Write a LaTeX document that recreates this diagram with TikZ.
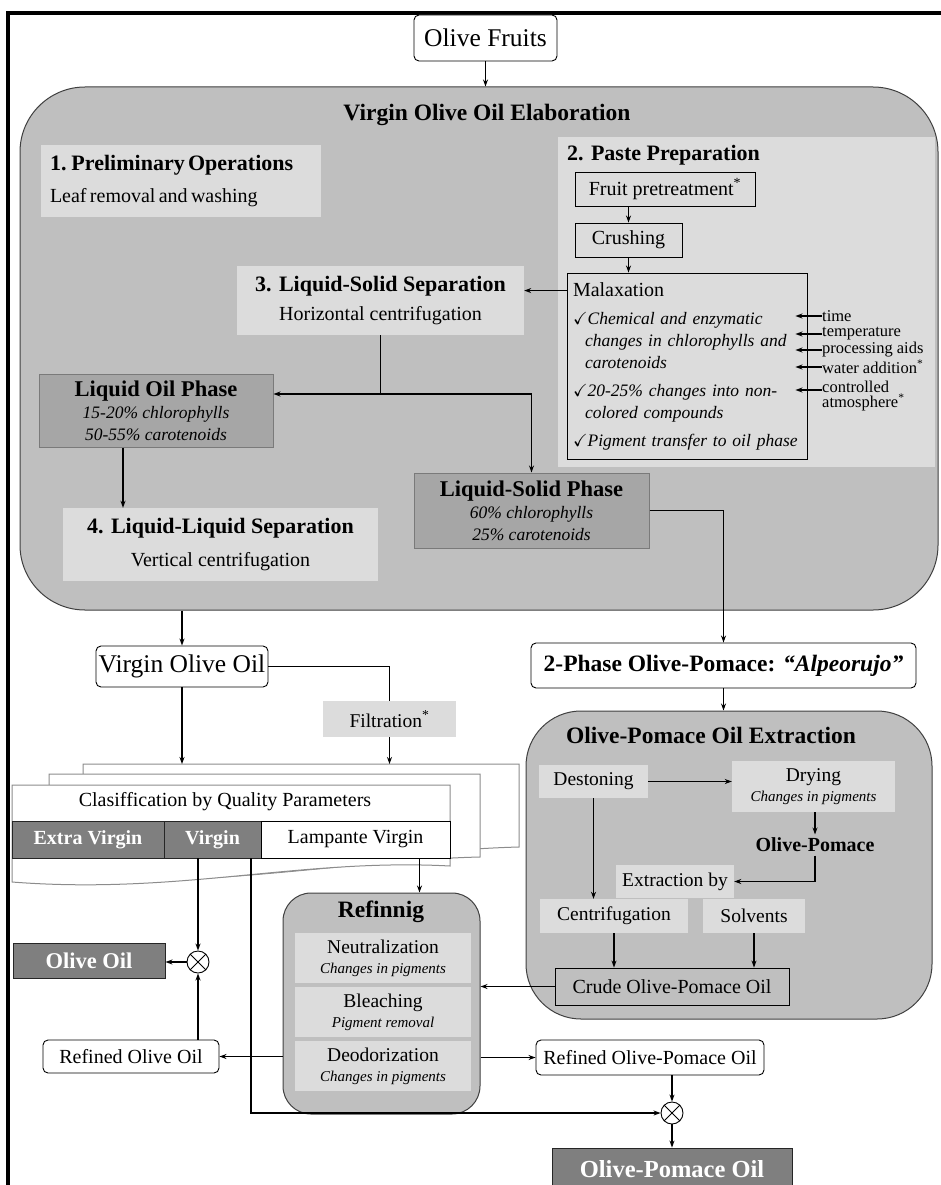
\documentclass[tikz,border=0pt]{standalone}
\usepackage{fontspec}
\setmainfont{Liberation Serif}
\usepackage{amssymb}
\usetikzlibrary{arrows.meta}

\definecolor{panelfill}{HTML}{BFBFBF}
\definecolor{lightfill}{HTML}{DCDCDC}
\definecolor{midfill}{HTML}{A6A6A6}
\definecolor{midline}{HTML}{7A7A7A}
\definecolor{darkfill}{HTML}{7F7F7F}

\newcommand{\fbig}{\fontsize{25.5}{29}\selectfont}
\newcommand{\fhead}{\fontsize{23.5}{27}\selectfont\bfseries}
\newcommand{\fnum}{\fontsize{22}{26}\selectfont\bfseries}
\newcommand{\fsub}{\fontsize{22.5}{25}\selectfont\bfseries}
\newcommand{\fbody}{\fontsize{20}{24}\selectfont}
\newcommand{\fstep}{\fontsize{19.5}{20}\selectfont}
\newcommand{\fital}{\fontsize{17.5}{22}\selectfont\itshape}
\newcommand{\fsmall}{\fontsize{16.5}{15}\selectfont}
\newcommand{\ftiny}{\fontsize{15}{16}\selectfont\itshape}

\begin{document}
\begin{tikzpicture}[x=1pt, y=-1pt, >={Stealth[length=7pt,width=5pt]},
	box/.style={rectangle, inner sep=0pt, align=center},
	roundbox/.style={box, draw, rounded corners=5pt, fill=white, line width=0.9pt},
	lightbox/.style={box, fill=lightfill},
	midbox/.style={box, fill=midfill, draw=midline, line width=1pt},
	darkbox/.style={box, fill=darkfill, draw=black!85, text=white, line width=0.9pt},
	linebox/.style={box, draw, line width=0.9pt},
	panel/.style={box, fill=panelfill, draw=black!75, line width=1pt},
	mixer/.style={circle, draw, minimum size=22pt, inner sep=0pt, line width=0.9pt},
	factor/.style={anchor=west, inner sep=0pt, font=\fsmall, align=left},
	sheet/.style={fill=white, draw=black!45, line width=1pt},
	conn/.style={line width=1.1pt},
	arr/.style={conn, ->}]
	%	frame
	\useasboundingbox (0,0) rectangle (941,1185);
	\draw[line width=3.5pt] (8,1185) -- (8,13) -- (941,13);
	
	\node[roundbox, font=\fbig, minimum width=143pt, minimum height=46pt] (fruits) at (485.5,38) {Olive Fruits};
	
	%	virgin olive oil elaboration
	\node[panel, rounded corners=65pt, minimum width=918pt, minimum height=523pt] (elab) at (479,348.5) {};
	\node[font=\fhead] (elabttl) at (487,115) {Virgin Olive Oil Elaboration};
	\draw[arr] (fruits.south) -- (fruits.south |- elab.north);
	
	\node[lightbox, minimum width=280pt, minimum height=72pt, text width=262pt, align=left] (prelim) at (181,181) {{\fnum 1. Preliminary Operations}\\[12pt]{\fbody Leaf removal and washing}};
	
	\node[lightbox, minimum width=377pt, minimum height=330pt] (paste) at (746.5,302) {};
	\node[font=\fnum, anchor=west, inner sep=0pt] (pastettl) at (567,155) {2. Paste Preparation};
	\node[linebox, font=\fbody, minimum width=180pt, minimum height=34pt] (pretreat) at (665,189) {Fruit pretreatment\textsuperscript{*}};
	\node[linebox, font=\fbody, minimum width=107pt, minimum height=34pt] (crush) at (628.5,240) {Crushing};
	\node[linebox, font=\fital, minimum width=240pt, minimum height=186pt, text width=228pt, align=left] (malax) at (687,366) {{\upshape\fbody Malaxation}\\[6pt]
		$\checkmark$Chemical and enzymatic\\
		\hspace*{12pt}changes in chlorophylls and\\
		\hspace*{12pt}carotenoids\\[6pt]
		$\checkmark$20-25\% changes into non-\\
		\hspace*{12pt}colored compounds\\[6pt]
		$\checkmark$Pigment transfer to oil phase};
	\draw[arr] (pretreat.south -| crush) -- (crush.north);
	\draw[arr] (crush.south) -- (crush.south |- malax.north);
	
	%	malaxation factors
	\node[factor] (ftime) at (822,316) {time};
	\node[factor] (ftemp) at (822,334) {temperature};
	\node[factor] (faids) at (822,350) {processing aids};
	\node[factor] (fwater) at (822,367) {water addition\textsuperscript{*}};
	\node[factor] (fatm) at (822,396) {controlled\\atmosphere\textsuperscript{*}};
	\foreach \f in {ftime, ftemp, faids, fwater}
		\draw[arr] (\f.west) -- ([xshift=-12]\f.west -| malax.east);
	\draw[arr] ([yshift=6]fatm.west) -- ([xshift=-12,yshift=6]fatm.west -| malax.east);
	
	\node[lightbox, minimum width=287pt, minimum height=69pt] (sep3) at (380.5,300.5) {{\fnum 3. Liquid-Solid Separation}\\[10pt]{\fbody Horizontal centrifugation}};
	\draw[arr] ([yshift=-18]malax.north west) -- ([yshift=-18]malax.north west -| sep3.east);
	
	\node[midbox, minimum width=234pt, minimum height=73pt, font=\fital] (oilph) at (156,410.5) {{\upshape\fsub Liquid Oil Phase}\\15-20\% chlorophylls\\50-55\% carotenoids};
	\node[midbox, minimum width=235pt, minimum height=75pt, font=\fital] (solph) at (531.5,510.5) {{\upshape\fsub Liquid-Solid Phase}\\60\% chlorophylls\\25\% carotenoids};
	\coordinate (split) at (sep3.south |- 0,394);
	\draw[conn] (sep3.south) -- (split);
	\draw[arr] (split) -- (split -| oilph.east);
	\draw[arr] (split) -| (solph.north);
	
	\node[lightbox, minimum width=315pt, minimum height=73pt] (sep4) at (220.5,544.5) {{\fnum 4. Liquid-Liquid Separation}\\[14pt]{\fbody Vertical centrifugation}};
	\draw[arr, line width=1.4pt] ([xshift=-33]oilph.south) -- ([xshift=-33]oilph.south |- sep4.north);
	
	%	virgin olive oil and classification
	\node[roundbox, font=\fbig, minimum width=172pt, minimum height=41pt] (voo) at (182,666.5) {Virgin Olive Oil};
	\draw[arr] (voo.north |- elab.south) -- (voo.north);
	\node[lightbox, font=\fstep, minimum width=133pt, minimum height=36pt] (filt) at (389.5,719) {Filtration\textsuperscript{*}};
	\draw[conn] (voo.east) -| (filt.north);
	
	\coordinate (sheettop) at (83,764);
	\filldraw[sheet] (83,764) -- (519,764) -- (519,847) .. controls (400,850) and (200,880) .. (83,870) -- cycle;
	\filldraw[sheet] (49,774) -- (480,774) -- (480,857) .. controls (350,860) and (200,890) .. (49,878) -- cycle;
	\filldraw[sheet] (12,785) -- (450,785) -- (450,866) .. controls (300,858) and (180,895) .. (12,882) -- cycle;
	\draw[arr] (voo.south) -- (voo.south |- sheettop);
	\draw[arr] (filt.south) -- (filt.south |- sheettop);
	
	\node[font=\fbody] (classttl) at (225,802) {Clasiffication by Quality Parameters};
	\node[darkbox, font=\fbody\bfseries, minimum width=152pt, minimum height=37pt] (xv) at (88,839.5) {Extra Virgin};
	\node[darkbox, font=\fbody\bfseries, minimum width=97pt, minimum height=37pt] (vir) at (212.5,839.5) {Virgin};
	\node[linebox, fill=white, font=\fbody, minimum width=189pt, minimum height=37pt] (lamp) at (355.5,839.5) {Lampante Virgin};
	
	%	olive oil
	\node[mixer] (mix1) at (198,962) {};
	\draw[line width=0.9pt] (mix1.north west) -- (mix1.south east) (mix1.north east) -- (mix1.south west);
	\node[darkbox, font=\fsub, minimum width=152pt, minimum height=35pt] (oo) at (89,960.5) {Olive Oil};
	\draw[arr] (vir.south -| mix1) -- (mix1.north);
	\draw[arr] (mix1.west) -- (mix1.west -| oo.east);
	
	%	refining
	\node[panel, rounded corners=28pt, minimum width=197pt, minimum height=221pt] (refin) at (381.5,1003.5) {};
	\node[font=\fhead] (refinttl) at (381,912) {Refinnig};
	\node[lightbox, font=\fstep, minimum width=176pt, minimum height=50pt] (neutr) at (383,958) {Neutralization\\{\ftiny Changes in pigments}};
	\node[lightbox, font=\fstep, minimum width=176pt, minimum height=50pt] (bleach) at (383,1012) {Bleaching\\{\ftiny Pigment removal}};
	\node[lightbox, font=\fstep, minimum width=176pt, minimum height=50pt] (deodor) at (383,1066) {Deodorization\\{\ftiny Changes in pigments}};
	\draw[arr] ([xshift=64]lamp.south) -- ([xshift=64]lamp.south |- refin.north);
	
	\node[roundbox, font=\fbody, minimum width=176pt, minimum height=33pt] (roo) at (131,1056.5) {Refined Olive Oil};
	\draw[arr] (refin.west |- roo) -- (roo.east);
	\draw[arr] (roo.north -| mix1) -- (mix1.south);
	
	\node[roundbox, font=\fbody, minimum width=228pt, minimum height=35pt] (ropo) at (650,1057.5) {Refined Olive-Pomace Oil};
	\draw[arr] (refin.east |- ropo) -- (ropo.west);
	\node[mixer] (mix2) at (672,1113) {};
	\draw[line width=0.9pt] (mix2.north west) -- (mix2.south east) (mix2.north east) -- (mix2.south west);
	\draw[arr] (ropo.south -| mix2) -- (mix2.north);
	\draw[arr] ([xshift=38.5]vir.south) |- (mix2.west);
	\node[darkbox, font=\fontsize{24.5}{27}\selectfont\bfseries, minimum width=240pt, minimum height=42pt] (opo) at (672,1169) {Olive-Pomace Oil};
	\draw[arr] (mix2.south) -- (opo.north);
	
	%	olive-pomace oil extraction
	\node[roundbox, font=\fhead, minimum width=385pt, minimum height=45pt] (twophase) at (723.5,665.5) {2-Phase Olive-Pomace: \textit{``Alpeorujo''}};
	\draw[arr] (solph.east) -| (twophase.north);
	\node[panel, rounded corners=55pt, minimum width=406pt, minimum height=308pt] (extr) at (729,865) {};
	\node[font=\fhead] (extrttl) at (711,735) {Olive-Pomace Oil Extraction};
	\draw[arr] (twophase.south) -- (twophase.south |- extr.north);
	
	\node[lightbox, font=\fstep, minimum width=109pt, minimum height=33pt] (deston) at (593.5,781.5) {Destoning};
	\node[lightbox, font=\fstep, minimum width=163pt, minimum height=51pt] (dry) at (813.5,786.5) {Drying\\{\ftiny Changes in pigments}};
	\node[font=\fbody\bfseries] (pomace) at (815,845) {Olive-Pomace};
	\node[lightbox, font=\fstep, minimum width=118pt, minimum height=33pt] (extby) at (675,881.5) {Extraction by};
	\node[lightbox, font=\fstep, minimum width=148pt, minimum height=34pt] (centr) at (614,916) {Centrifugation};
	\node[lightbox, font=\fstep, minimum width=102pt, minimum height=34pt] (solv) at (754,916) {Solvents};
	\node[linebox, font=\fbody, minimum width=234pt, minimum height=37pt] (crude) at (672,986.5) {Crude Olive-Pomace Oil};
	\draw[arr] (deston.east) -- (deston.east -| dry.west);
	\draw[arr] (dry.south -| pomace) -- (pomace.north);
	\draw[arr] (pomace.south) |- (extby.east);
	\draw[arr] (deston.south) -- (deston.south |- centr.north);
	\draw[arr] (centr.south) -- (centr.south |- crude.north);
	\draw[arr] (solv.south) -- (solv.south |- crude.north);
	\draw[arr] (crude.west) -- (crude.west -| refin.east);
\end{tikzpicture}
\end{document}
